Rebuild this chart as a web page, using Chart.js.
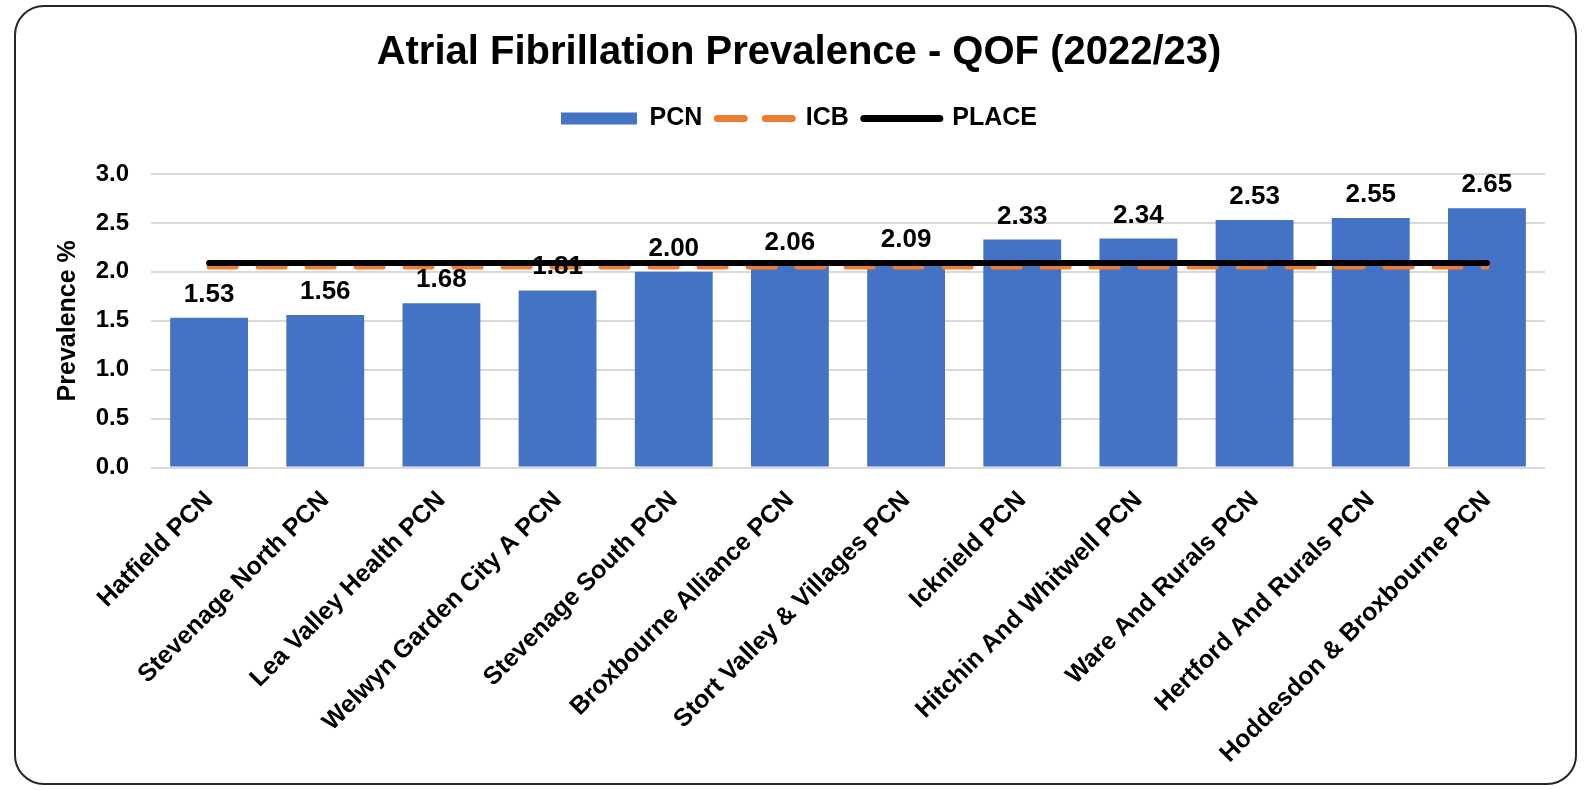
<!DOCTYPE html>
<html>
<head>
<meta charset="utf-8">
<script src="https://cdn.jsdelivr.net/npm/chart.js@4.4.0/dist/chart.umd.min.js"></script>
<style>
  html, body { margin: 0; padding: 0; background: #fff; }
  #box {
    position: absolute; left: 14px; top: 5px;
    width: 1559px; height: 776px;
    border: 2.5px solid #262626; border-radius: 30px;
    overflow: hidden; background: #fff;
  }
  #wrap { position: absolute; left: 0; top: 0; width: 1559px; height: 776px; }
</style>
</head>
<body>
<div id="box"><div id="wrap"><canvas id="chart"></canvas></div></div>
<script>
// ── Data ──
const pcnNames = [
  'Hatfield PCN', 'Stevenage North PCN', 'Lea Valley Health PCN', 'Welwyn Garden City A PCN',
  'Stevenage South PCN', 'Broxbourne Alliance PCN', 'Stort Valley & Villages PCN', 'Icknield PCN',
  'Hitchin And Whitwell PCN', 'Ware And Rurals PCN', 'Hertford And Rurals PCN', 'Hoddesdon & Broxbourne PCN'
];
const pcnValues = [1.53, 1.56, 1.68, 1.81, 2.00, 2.06, 2.09, 2.33, 2.34, 2.53, 2.55, 2.65];
const icbValue = 2.05;
const placeValue = 2.09;
const yTicks = [0, 0.5, 1.0, 1.5, 2.0, 2.5, 3.0];

const FONT = '"Liberation Sans", Arial, sans-serif';
const BLUE = '#4472C4', ORANGE = '#ED7D31', BLACK = '#000000';

// value labels above the bars
const barLabels = {
  id: 'barLabels',
  afterDatasetsDraw(chart) {
    const ctx = chart.ctx;
    const meta = chart.getDatasetMeta(0);
    ctx.save();
    ctx.font = 'bold 26px ' + FONT;
    ctx.fillStyle = '#000';
    ctx.textAlign = 'center';
    ctx.textBaseline = 'alphabetic';
    meta.data.forEach((bar, i) => {
      ctx.fillText(pcnValues[i].toFixed(2), bar.x, bar.y - 16);
    });
    ctx.restore();
  }
};

// extra room under the legend
const legendGap = {
  id: 'legendGap',
  beforeInit(chart) {
    const fit = chart.legend.fit;
    chart.legend.fit = function () {
      fit.call(this);
      this.height += 33;
    };
  }
};

new Chart(document.getElementById('chart'), {
  type: 'bar',
  data: {
    labels: pcnNames,
    datasets: [
      {
        label: 'PCN', data: pcnValues, backgroundColor: BLUE, order: 3,
        categoryPercentage: 1, barPercentage: 0.67
      },
      {
        type: 'line', label: 'ICB', data: pcnNames.map(() => icbValue),
        borderColor: ORANGE, borderWidth: 5, borderDash: [27, 22], borderCapStyle: 'round',
        pointRadius: 0, order: 2
      },
      {
        type: 'line', label: 'PLACE', data: pcnNames.map(() => placeValue),
        borderColor: BLACK, borderWidth: 6, borderCapStyle: 'round',
        pointRadius: 0, order: 1
      }
    ]
  },
  options: {
    responsive: true,
    maintainAspectRatio: false,
    animation: false,
    layout: { padding: { left: 37, right: 30, top: 22, bottom: 4 } },
    plugins: {
      title: {
        display: true, text: 'Atrial Fibrillation Prevalence - QOF (2022/23)',
        color: '#000', font: { family: FONT, size: 40, weight: 'bold' },
        padding: { top: 0, bottom: 14 }
      },
      legend: {
        position: 'top',
        labels: {
          color: '#000', font: { family: FONT, size: 25, weight: 'bold' },
          usePointStyle: true, pointStyleWidth: 76, boxHeight: 12, padding: 15,
          generateLabels: () => [
            { text: 'PCN', pointStyle: 'rect', fillStyle: BLUE, strokeStyle: BLUE, lineWidth: 0, datasetIndex: 0 },
            { text: 'ICB', pointStyle: 'line', fillStyle: ORANGE, strokeStyle: ORANGE, lineWidth: 7,
              lineDash: [27, 21], lineCap: 'round', datasetIndex: 1 },
            { text: 'PLACE', pointStyle: 'line', fillStyle: BLACK, strokeStyle: BLACK, lineWidth: 7,
              lineCap: 'round', datasetIndex: 2 }
          ]
        }
      },
      tooltip: { enabled: false }
    },
    scales: {
      x: {
        grid: { display: false },
        border: { display: false },
        ticks: {
          color: '#000', font: { family: FONT, size: 25, weight: 'bold' },
          maxRotation: 45, minRotation: 45, autoSkip: false, padding: 10
        }
      },
      y: {
        min: 0, max: 3,
        afterBuildTicks: axis => { axis.ticks = yTicks.map(v => ({ value: v })); },
        afterFit: axis => { axis.width = 98; },
        grid: { color: '#d9d9d9', lineWidth: 2, drawTicks: false },
        border: { display: false },
        title: {
          display: true, text: 'Prevalence %', color: '#000',
          font: { family: FONT, size: 25, weight: 'bold' }, padding: { top: 0, bottom: 4 }
        },
        ticks: {
          color: '#000', font: { family: FONT, size: 24, weight: 'bold' }, padding: 22,
          callback: v => v.toFixed(1)
        }
      }
    }
  },
  plugins: [barLabels, legendGap]
});
</script>
</body>
</html>
